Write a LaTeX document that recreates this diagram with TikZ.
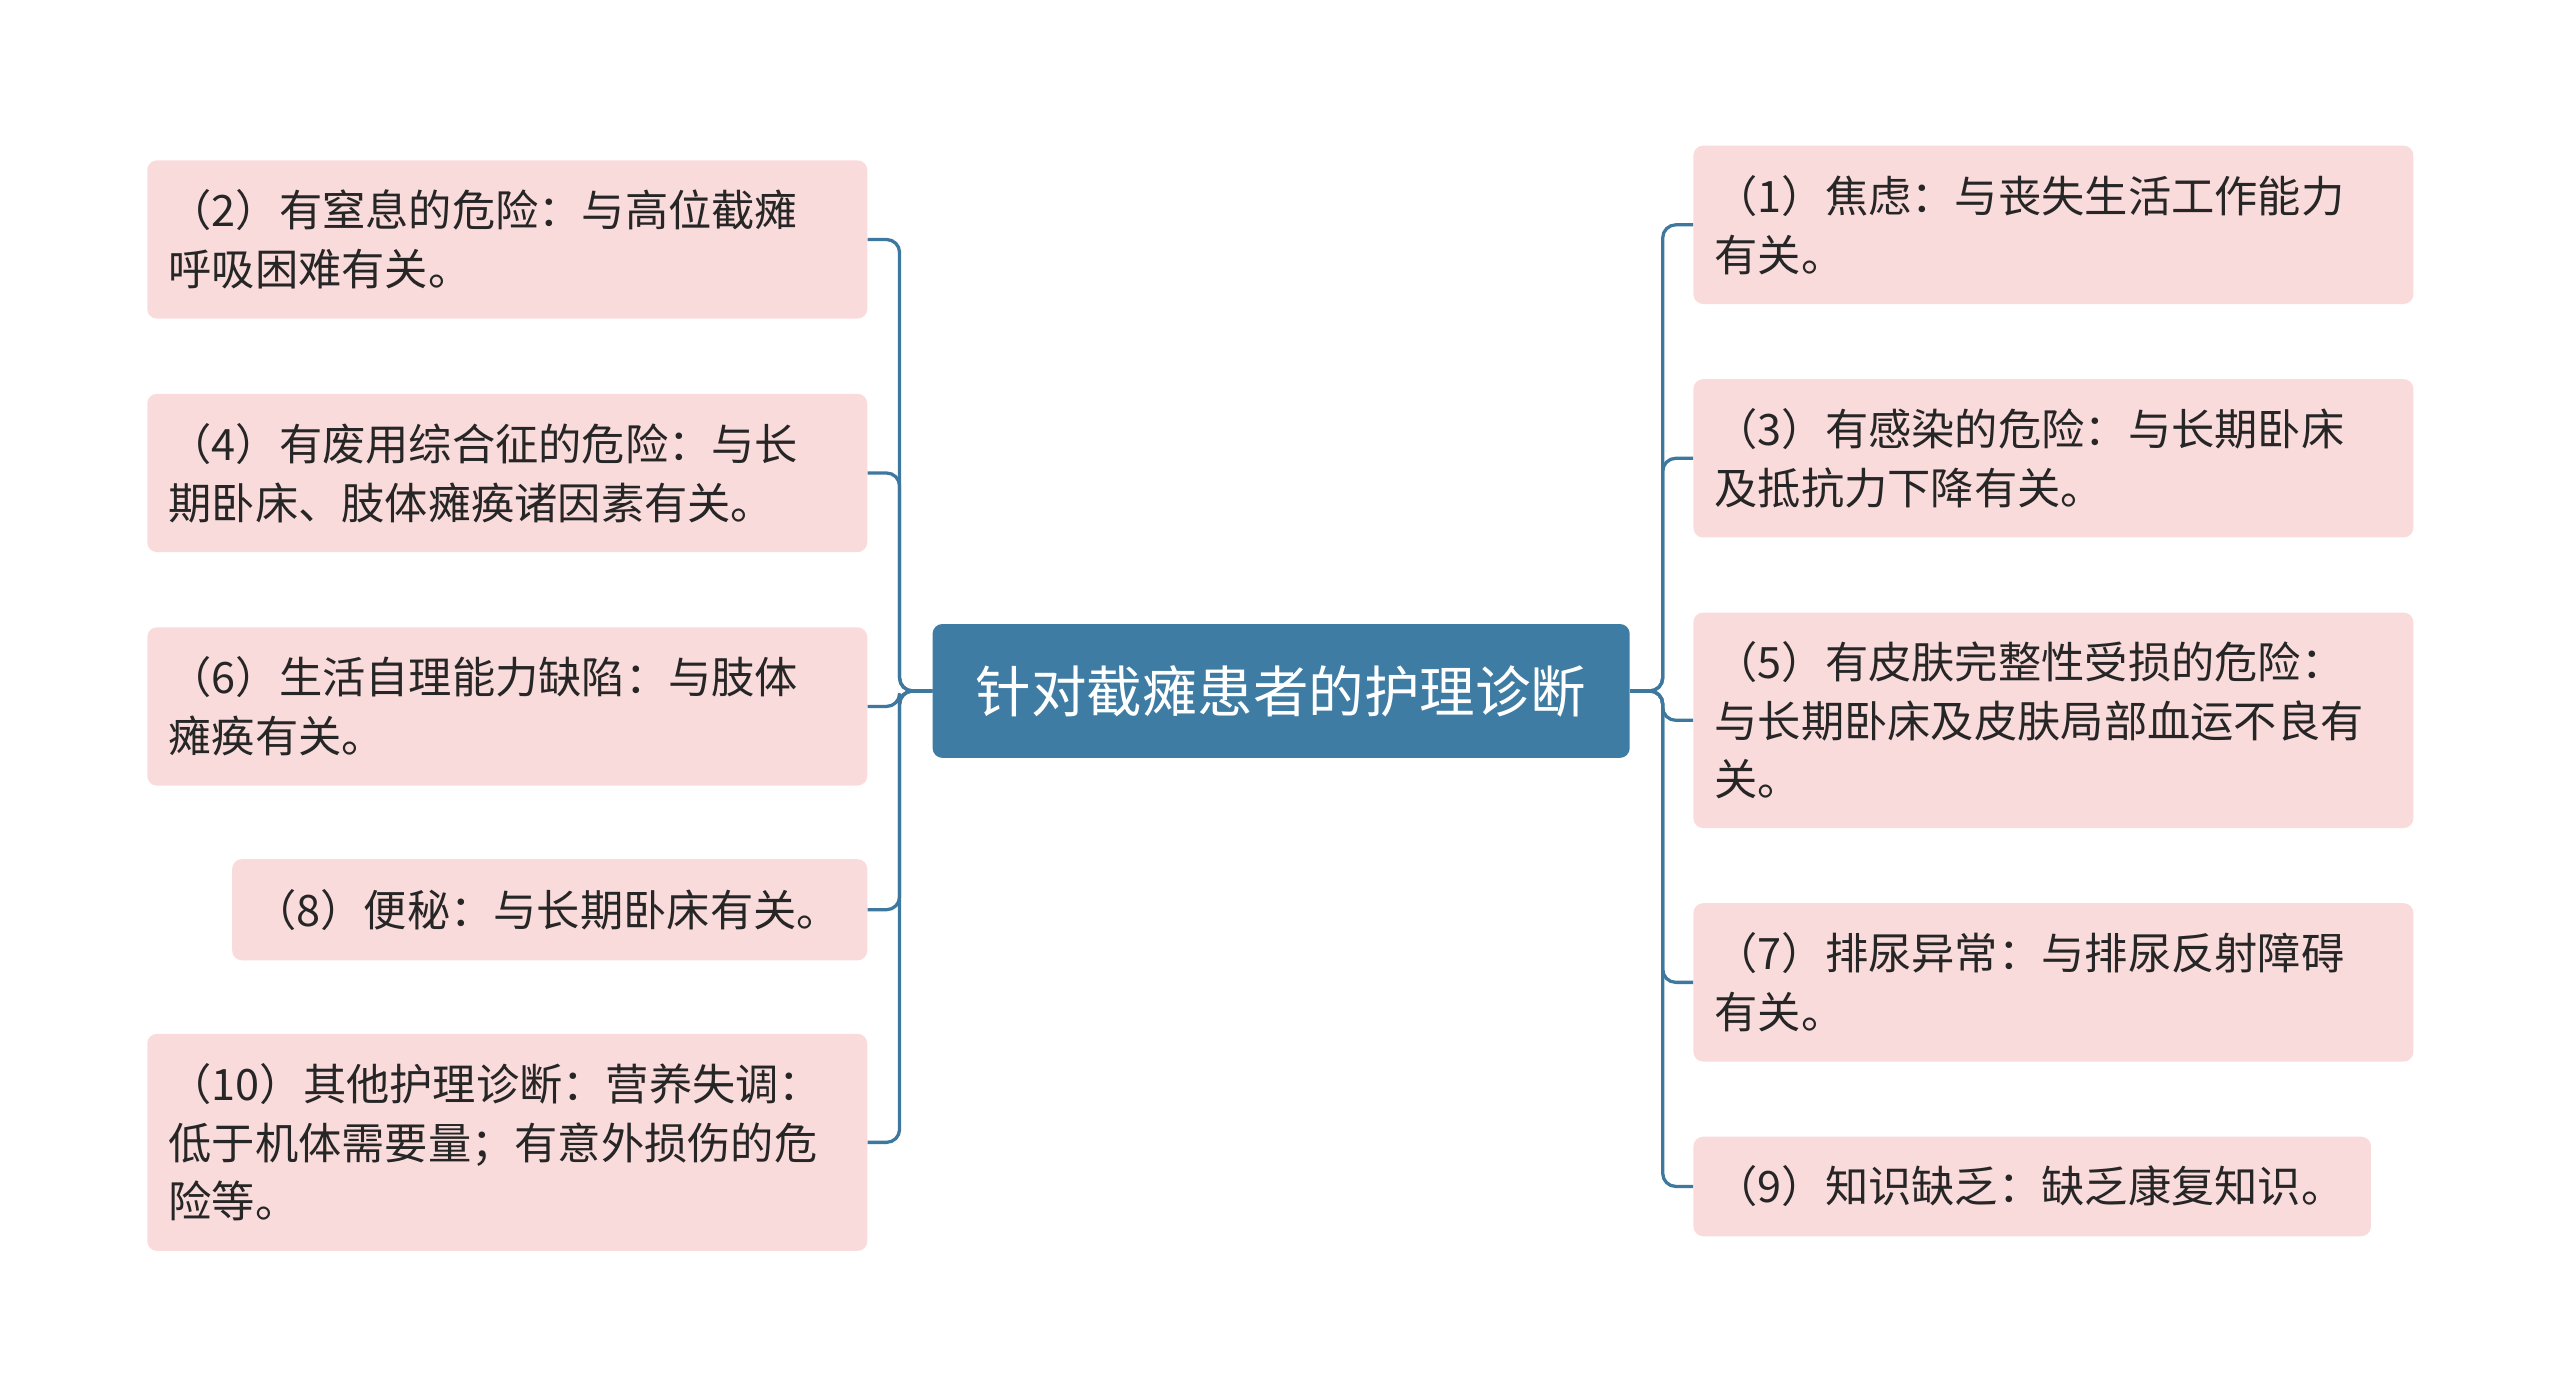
\documentclass[tikz,border=0pt]{standalone}
\usepackage{fontspec}
\setmainfont{Noto Sans CJK SC}
\begin{document}
\begin{tikzpicture}[x=1pt,y=-1pt,
  leaf/.style={fill=leafpink,rounded corners=6pt,anchor=north west,align=left,inner xsep=13pt,inner ysep=0pt,font=\fontsize{26.5}{36}\selectfont,text=black!85},
  conn/.style={draw=linkblue,line width=2pt,rounded corners=8pt}]
\definecolor{leafpink}{HTML}{FADBDB}
\definecolor{linkblue}{HTML}{3F789E}
\definecolor{rootblue}{HTML}{3E7CA4}
\useasboundingbox (0,0) rectangle (1568,856);
\node[fill=rootblue,rounded corners=6pt,minimum width=427pt,minimum height=82pt,text=white,font=\fontsize{34}{40}\selectfont,anchor=north west,inner sep=0pt] (root) at (571,382) {针对截瘫患者的护理诊断};
\node[leaf,minimum width=441pt,minimum height=97pt,text width=415pt] (l1) at (90,98) {（2）有窒息的危险：与高位截瘫\\呼吸困难有关。};
\node[leaf,minimum width=441pt,minimum height=97pt,text width=415pt] (l2) at (90,241) {（4）有废用综合征的危险：与长\\期卧床、肢体瘫痪诸因素有关。};
\node[leaf,minimum width=441pt,minimum height=97pt,text width=415pt] (l3) at (90,384) {（6）生活自理能力缺陷：与肢体\\瘫痪有关。};
\node[leaf,minimum width=389pt,minimum height=62pt,text width=363pt] (l4) at (142,526) {（8）便秘：与长期卧床有关。};
\node[leaf,minimum width=441pt,minimum height=133pt,text width=415pt] (l5) at (90,633) {（10）其他护理诊断：营养失调：\\低于机体需要量；有意外损伤的危\\险等。};
\node[leaf,minimum width=441pt,minimum height=97pt,text width=415pt] (r1) at (1037,89) {（1）焦虑：与丧失生活工作能力\\有关。};
\node[leaf,minimum width=441pt,minimum height=97pt,text width=415pt] (r2) at (1037,232) {（3）有感染的危险：与长期卧床\\及抵抗力下降有关。};
\node[leaf,minimum width=441pt,minimum height=132pt,text width=415pt] (r3) at (1037,375) {（5）有皮肤完整性受损的危险：\\与长期卧床及皮肤局部血运不良有\\关。};
\node[leaf,minimum width=441pt,minimum height=97pt,text width=415pt] (r4) at (1037,553) {（7）排尿异常：与排尿反射障碍\\有关。};
\node[leaf,minimum width=415pt,minimum height=61pt,text width=389pt] (r5) at (1037,696) {（9）知识缺乏：缺乏康复知识。};
\foreach \n in {l1,l2,l3,l4,l5}
  \draw[conn] (root.west) -- ++(-20,0) |- (\n.east);
\foreach \n in {r1,r2,r3,r4,r5}
  \draw[conn] (root.east) -- ++(20,0) |- (\n.west);
\end{tikzpicture}
\end{document}
